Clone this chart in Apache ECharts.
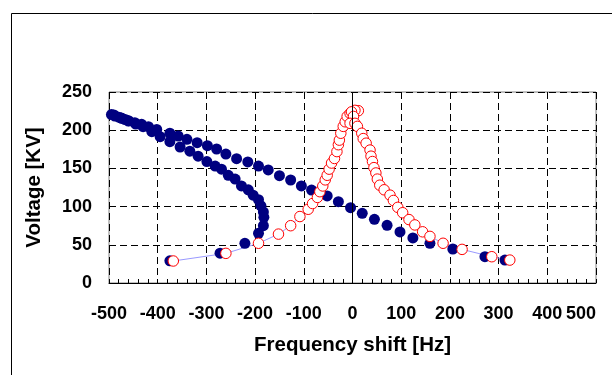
<!DOCTYPE html>
<html>
<head>
<meta charset="utf-8">
<script src="https://cdn.jsdelivr.net/npm/echarts@6/dist/echarts.min.js"></script>
<style>
html,body{margin:0;padding:0;background:#fff;}
#chart{width:612px;height:375px;}
</style>
</head>
<body>
<div id="chart"></div>
<script>
// Blue series (filled navy circles): lower branch + upper branch
var blueLower = [
  [-375,29],[-272,39],[-221,52],[-193,65],[-183,75],[-182,86],[-183,93],[-188,101],
  [-193,109],[-204,115],[-214,122],[-228,127],[-241,136],[-255,141],[-269,149],
  [-282,153],[-299,159],[-317,166],[-334,172.5],[-354,178],[-375,185],[-395,191.5],
  [-412,198],[-430,204.6],[-445,208],[-460,212],[-475,216],[-490,220],[-501,222]
];
var blueUpper = [
  [-495,220.5],[-488,218.6],[-480,217],[-474,215.5],[-467,214],[-460,212.4],[-447,209.8],
  [-433,207.7],[-419,204.6],[-402,201],[-375,196],[-358,192.4],[-340,188],[-319,183.6],
  [-298,179.7],[-279,175.4],[-260,168.8],[-238,162.7],[-215,158.4],[-193,153],[-173,148],
  [-150,140.4],[-127,134.8],[-105,127],[-84,121.7],[-52,114],[-29,106.4],[-4,98.6],
  [20,91.2],[45,83.4],[71,75.5],[97.5,66.8],[124,59],[159,52],[206,44.5],[272,34.4],[313,30]
];
// Red series (open red circles), in sweep order
var redPoints = [
  [-368,28.8],[-260,38.8],[-193,52],[-152,64],[-127,75],[-108,87],[-91,96.5],[-82,104],
  [-72,112],[-67,119.5],[-61,127],[-56,135],[-52,141],[-48,149],[-43,157],[-37,163],
  [-32,172],[-29,181],[-27,187],[-24,196],[-19,205],[-15,211],[-11,218],[-5,222],
  [2,224],[9,225.5],[12,225.5],[5,226],[-2,224],[2,218],[-5,209],[5,209],[10,205],
  [19,196],[22,189],[28,183],[36,174],[38,166],[41,159],[44,151],[48,144],[51,136],
  [56,128],[65,122],[77,115],[84,108],[93,99],[103,92],[116,83],[128,76],[144,67],
  [159,61],[186,52],[225,44],[286,34.4],[323,30]
];
var xTitle = 'Frequency shift [Hz]';
var yTitle = 'Voltage [KV]';

var chart = echarts.init(document.getElementById('chart'), null, {renderer:'canvas'});
var FONT = '"Liberation Sans", Arial, sans-serif';
var dashed = {color:'#000', type:[7,4], width:1};

chart.setOption({
  animation:false,
  backgroundColor:'#fff',
  graphic:[{
    type:'rect', left:9, top:11, silent:true,
    shape:{x:0,y:0,width:700,height:500},
    style:{fill:'none', stroke:'#000', lineWidth:1}
  }],
  grid:{left:109, top:92, width:487, height:191, show:true, borderColor:'#808080', borderWidth:1, backgroundColor:'#fff'},
  xAxis:{
    type:'value', min:-500, max:500, interval:100,
    name:xTitle, nameLocation:'middle', nameGap:52,
    nameTextStyle:{fontFamily:FONT, fontWeight:'bold', fontSize:20.5, color:'#000'},
    axisLine:{show:true, onZero:false, lineStyle:{color:'#000', width:1}},
    axisTick:{show:true, inside:true, length:4, lineStyle:{color:'#000'}},
    minorTick:{show:true, splitNumber:5, length:4, lineStyle:{color:'#000'}},
    axisLabel:{fontFamily:FONT, fontWeight:'bold', fontSize:18, color:'#000', margin:22, alignMaxLabel:'right'},
    splitLine:{show:true, lineStyle:dashed}
  },
  yAxis:{
    type:'value', min:0, max:250, interval:50,
    name:yTitle, nameLocation:'middle', nameGap:64, nameRotate:90,
    nameTextStyle:{fontFamily:FONT, fontWeight:'bold', fontSize:20.5, color:'#000'},
    axisLine:{show:false},
    axisTick:{show:false},
    axisLabel:{fontFamily:FONT, fontWeight:'bold', fontSize:18, color:'#000', margin:17},
    splitLine:{show:true, lineStyle:dashed}
  },
  series:[
    {
      type:'line', data:redPoints, symbol:'none', z:1,
      lineStyle:{color:'#9999ff', width:1}, silent:true,
      markLine:{silent:true, symbol:'none', label:{show:false},
        lineStyle:{color:'#000', type:'solid', width:1},
        data:[{xAxis:0}]}
    },
    {
      type:'scatter', data:blueLower.concat(blueUpper), symbol:'circle', symbolSize:11, z:2,
      itemStyle:{color:'#000080', borderColor:'#000080', borderWidth:0, opacity:1}
    },
    {
      type:'scatter', data:redPoints, symbol:'circle', symbolSize:10.5, z:3,
      itemStyle:{color:'#fff', borderColor:'#ff0000', borderWidth:1, opacity:1}
    }
  ]
});
</script>
</body>
</html>
